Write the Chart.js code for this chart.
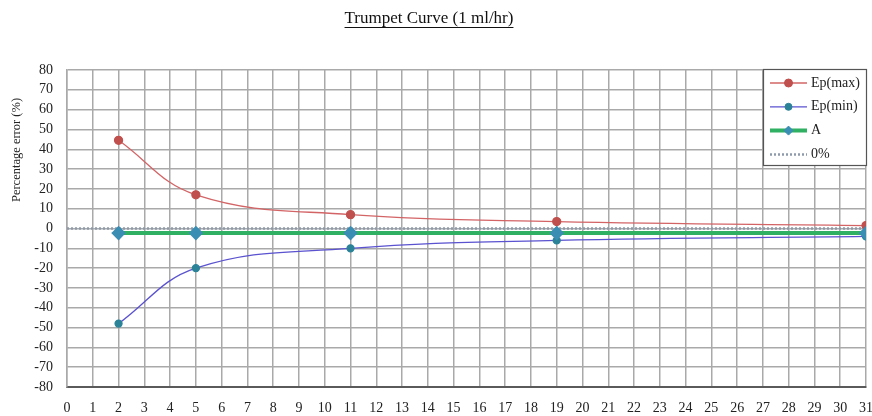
<!DOCTYPE html>
<html>
<head>
<meta charset="utf-8">
<title>Trumpet Curve (1 ml/hr)</title>
<script src="https://cdn.jsdelivr.net/npm/chart.js@4.4.1/dist/chart.umd.min.js"></script>
<style>
  html, body { margin: 0; padding: 0; background: #ffffff; }
  #wrap { width: 872px; height: 416px; position: relative; }
</style>
</head>
<body>
<div id="wrap"><canvas id="chart" width="872" height="416"></canvas></div>
<script>
// Observation windows (x) and percentage errors
const windows   = [2, 5, 11, 19, 31];
const epMax     = [44.5, 17, 7, 3.5, 1.5];
const epMin     = [-48, -20, -10, -6, -4];
const meanError = [-2.3, -2.3, -2.3, -2.3, -2.3];
const zeroX     = [0, 31];
const zeroY     = [0, 0];

// Axis tick labels
const xTickValues = [0, 1, 2, 3, 4, 5, 6, 7, 8, 9, 10, 11, 12, 13, 14, 15, 16, 17, 18, 19, 20, 21, 22, 23, 24, 25, 26, 27, 28, 29, 30, 31];
const yTickValues = [-80, -70, -60, -50, -40, -30, -20, -10, 0, 10, 20, 30, 40, 50, 60, 70, 80];

const chartTitle = 'Trumpet Curve (1 ml/hr)';
const yAxisTitle = 'Percentage error (%)';

const SERIF = '"Liberation Serif", "Times New Roman", serif';
const GRID = '#a9a9a9';

const toPoints = (xs, ys) => xs.map((x, i) => ({ x: x, y: ys[i] }));

// Underlined chart title and rotated y-axis caption
const captions = {
  id: 'captions',
  afterDraw(chart) {
    const ctx = chart.ctx;
    ctx.save();
    ctx.fillStyle = '#111';
    ctx.strokeStyle = '#111';
    ctx.font = '17px ' + SERIF;
    ctx.textAlign = 'center';
    ctx.textBaseline = 'middle';
    const tx = 429, ty = 19;
    ctx.fillText(chartTitle, tx, ty);
    const w = ctx.measureText(chartTitle).width;
    ctx.lineWidth = 1;
    ctx.beginPath();
    ctx.moveTo(tx - w / 2, ty + 8.5);
    ctx.lineTo(tx + w / 2, ty + 8.5);
    ctx.stroke();

    ctx.translate(17, 150);
    ctx.rotate(-Math.PI / 2);
    ctx.font = '12.5px ' + SERIF;
    ctx.fillStyle = '#222';
    ctx.fillText(yAxisTitle, 0, 0);
    ctx.restore();
  }
};

// Boxed legend in the top-right corner of the plot
const boxLegend = {
  id: 'boxLegend',
  afterDraw(chart) {
    const ctx = chart.ctx;
    const area = chart.chartArea;
    const right = area.right + 1, top = area.top - 1;
    const left = right - 104, bottom = top + 97;
    ctx.save();
    ctx.fillStyle = '#ffffff';
    ctx.fillRect(left, top, right - left, bottom - top);
    ctx.strokeStyle = '#555';
    ctx.lineWidth = 1.2;
    ctx.strokeRect(left + 0.5, top + 0.5, right - left - 1, bottom - top - 1);

    const rowY0 = top + 14, rowStep = 23.8;
    chart.data.datasets.forEach((ds, i) => {
      const y = rowY0 + i * rowStep;
      const x0 = left + 7, x1 = left + 44, xm = (x0 + x1) / 2;
      ctx.save();
      ctx.strokeStyle = ds.borderColor;
      ctx.lineWidth = ds.borderWidth;
      ctx.setLineDash(ds.borderDash || []);
      ctx.beginPath();
      ctx.moveTo(x0, y);
      ctx.lineTo(x1, y);
      ctx.stroke();
      ctx.restore();
      if (ds.pointRadius > 0) {
        ctx.fillStyle = ds.pointBackgroundColor;
        ctx.strokeStyle = ds.pointBorderColor;
        ctx.lineWidth = 1;
        ctx.beginPath();
        if (ds.pointStyle === 'rectRot') {
          const r = ds.pointRadius;
          ctx.moveTo(xm, y - r); ctx.lineTo(xm + r, y); ctx.lineTo(xm, y + r); ctx.lineTo(xm - r, y); ctx.closePath();
        } else {
          ctx.arc(xm, y, ds.pointRadius, 0, Math.PI * 2);
        }
        ctx.fill();
        ctx.stroke();
      }
      ctx.fillStyle = '#222';
      ctx.font = '14px ' + SERIF;
      ctx.textAlign = 'left';
      ctx.textBaseline = 'middle';
      ctx.fillText(ds.label, x1 + 4, y);
    });
    ctx.restore();
  }
};

new Chart(document.getElementById('chart'), {
  type: 'line',
  data: {
    datasets: [
      {
        label: 'Ep(max)',
        data: toPoints(windows, epMax),
        borderColor: '#d36466',
        borderWidth: 1.3,
        pointStyle: 'circle',
        pointRadius: 4,
        pointBackgroundColor: '#c0504d',
        pointBorderColor: '#c0504d',
        tension: 0.4,
        order: 2
      },
      {
        label: 'Ep(min)',
        data: toPoints(windows, epMin),
        borderColor: '#5a52cf',
        borderWidth: 1.3,
        pointStyle: 'circle',
        pointRadius: 3.5,
        pointBackgroundColor: '#2b8398',
        pointBorderColor: '#2b8398',
        tension: 0.4,
        order: 3
      },
      {
        label: 'A',
        data: toPoints(windows, meanError),
        borderColor: '#2fb062',
        borderWidth: 4,
        pointStyle: 'rectRot',
        pointRadius: 4.5,
        pointBackgroundColor: '#3a8db3',
        pointBorderColor: '#3a8db3',
        tension: 0,
        order: 1
      },
      {
        label: '0%',
        data: toPoints(zeroX, zeroY),
        borderColor: '#8e9aac',
        borderWidth: 2.5,
        borderDash: [2, 2],
        pointRadius: 0,
        tension: 0,
        order: 4
      }
    ]
  },
  options: {
    responsive: false,
    animation: false,
    events: [],
    layout: { autoPadding: false, padding: { left: 0, right: 6, top: 70, bottom: 0 } },
    plugins: {
      legend: { display: false },
      tooltip: { enabled: false },
      title: { display: false }
    },
    scales: {
      x: {
        type: 'linear',
        min: 0,
        max: 31,
        afterBuildTicks: (s) => { s.ticks = xTickValues.map(v => ({ value: v })); },
        afterFit: (s) => { s.height = 29; s.paddingLeft = 0; s.paddingRight = 0; },
        grid: { color: GRID, lineWidth: 1.5, drawTicks: false },
        border: { color: '#5a5a5a', width: 2 },
        ticks: {
          padding: 13,
          autoSkip: false,
          maxRotation: 0,
          color: '#222',
          font: { family: SERIF, size: 14 }
        }
      },
      y: {
        type: 'linear',
        min: -80,
        max: 80,
        afterBuildTicks: (s) => { s.ticks = yTickValues.map(v => ({ value: v })); },
        afterFit: (s) => { s.width = 67; s.paddingTop = 0; s.paddingBottom = 0; },
        grid: { color: GRID, lineWidth: 1.5, drawTicks: false },
        border: { color: GRID, width: 1.5 },
        ticks: {
          padding: 14,
          color: '#222',
          font: { family: SERIF, size: 14 }
        }
      }
    }
  },
  plugins: [captions, boxLegend]
});
</script>
</body>
</html>
